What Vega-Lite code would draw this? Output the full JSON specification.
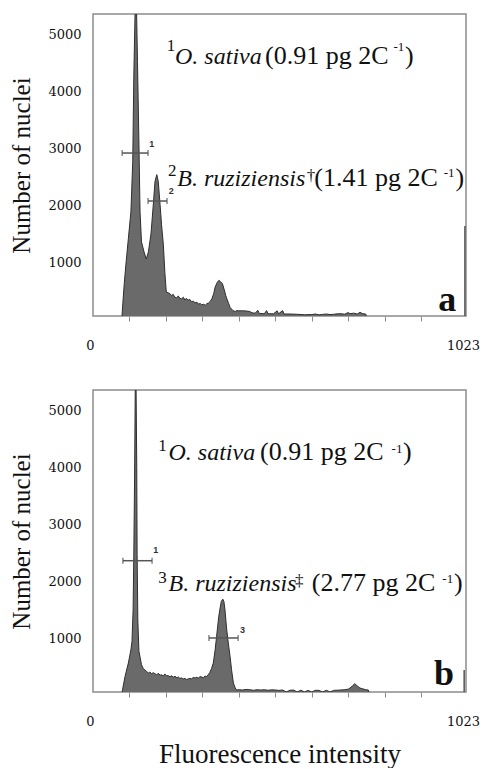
{
  "$schema": "https://vega.github.io/schema/vega-lite/v6.json",
  "padding": {"left": 9, "top": 13, "right": 0, "bottom": 0},
  "spacing": 36,
  "config": {
    "view": {"stroke": "#8c8c8c", "strokeWidth": 1.5},
    "axis": {"labelFont": "DejaVu Serif, serif", "labelFontSize": 13, "labelColor": "#111", "titleFont": "Liberation Serif, Times New Roman, serif", "titleFontWeight": "normal", "titleColor": "#111", "grid": false, "domain": false},
    "text": {"font": "Liberation Serif, Times New Roman, serif", "color": "#111"}
  },
  "datasets": {
    "histA": [
      {"x":0,"y":0},{"x":79,"y":0},{"x":82,"y":300},{"x":86,"y":650},{"x":90,"y":950},{"x":97,"y":1420},{"x":104,"y":1890},{"x":109,"y":2770},{"x":112,"y":4290},{"x":116,"y":5600},{"x":119,"y":5600},{"x":122,"y":4530},{"x":126,"y":3070},{"x":129,"y":1890},{"x":133,"y":1360},{"x":140,"y":1185},{"x":146,"y":1060},{"x":152,"y":1185},{"x":159,"y":1500},{"x":166,"y":2065},{"x":170,"y":2420},{"x":175,"y":2540},{"x":179,"y":2420},{"x":184,"y":2010},{"x":188,"y":1660},{"x":193,"y":1310},{"x":197,"y":830},{"x":201,"y":480},{"x":206,"y":470},{"x":211,"y":450},{"x":216,"y":420},{"x":220,"y":440},{"x":224,"y":392},{"x":229,"y":380},{"x":234,"y":410},{"x":238,"y":370},{"x":243,"y":362},{"x":248,"y":390},{"x":252,"y":340},{"x":256,"y":370},{"x":261,"y":339},{"x":266,"y":350},{"x":270,"y":310},{"x":275,"y":320},{"x":280,"y":292},{"x":285,"y":300},{"x":290,"y":270},{"x":294,"y":280},{"x":298,"y":257},{"x":303,"y":265},{"x":308,"y":250},{"x":312,"y":274},{"x":317,"y":290},{"x":322,"y":320},{"x":326,"y":362},{"x":331,"y":450},{"x":335,"y":568},{"x":340,"y":640},{"x":345,"y":686},{"x":350,"y":660},{"x":355,"y":627},{"x":360,"y":520},{"x":364,"y":420},{"x":367,"y":362},{"x":372,"y":280},{"x":376,"y":210},{"x":381,"y":176},{"x":385,"y":150},{"x":390,"y":140},{"x":395,"y":155},{"x":400,"y":150},{"x":410,"y":152},{"x":420,"y":148},{"x":430,"y":140},{"x":436,"y":115},{"x":445,"y":110},{"x":452,"y":160},{"x":456,"y":105},{"x":470,"y":100},{"x":476,"y":155},{"x":480,"y":100},{"x":495,"y":98},{"x":505,"y":150},{"x":509,"y":98},{"x":520,"y":155},{"x":524,"y":95},{"x":540,"y":95},{"x":560,"y":90},{"x":580,"y":82},{"x":600,"y":85},{"x":610,"y":95},{"x":620,"y":80},{"x":630,"y":88},{"x":640,"y":95},{"x":650,"y":85},{"x":660,"y":90},{"x":670,"y":98},{"x":680,"y":100},{"x":690,"y":92},{"x":700,"y":120},{"x":705,"y":100},{"x":715,"y":110},{"x":725,"y":95},{"x":732,"y":125},{"x":740,"y":100},{"x":748,"y":95},{"x":752,"y":0},{"x":1023,"y":0}
    ],
    "histB": [
      {"x":0,"y":0},{"x":78,"y":0},{"x":81,"y":100},{"x":88,"y":336},{"x":97,"y":569},{"x":104,"y":800},{"x":107,"y":950},{"x":110,"y":1500},{"x":112,"y":2500},{"x":114,"y":3800},{"x":116,"y":5500},{"x":118,"y":5500},{"x":120,"y":4000},{"x":121,"y":2470},{"x":123,"y":1306},{"x":126,"y":774},{"x":133,"y":539},{"x":138,"y":470},{"x":142,"y":451},{"x":147,"y":420},{"x":152,"y":393},{"x":156,"y":410},{"x":161,"y":380},{"x":165,"y":400},{"x":170,"y":381},{"x":175,"y":360},{"x":179,"y":390},{"x":184,"y":355},{"x":188,"y":364},{"x":193,"y":340},{"x":197,"y":375},{"x":202,"y":346},{"x":206,"y":346},{"x":211,"y":330},{"x":216,"y":345},{"x":220,"y":320},{"x":225,"y":336},{"x":230,"y":310},{"x":234,"y":325},{"x":238,"y":300},{"x":243,"y":306},{"x":248,"y":290},{"x":252,"y":300},{"x":256,"y":280},{"x":261,"y":288},{"x":266,"y":300},{"x":270,"y":290},{"x":275,"y":315},{"x":280,"y":306},{"x":285,"y":320},{"x":289,"y":300},{"x":293,"y":330},{"x":298,"y":323},{"x":303,"y":310},{"x":307,"y":340},{"x":311,"y":330},{"x":316,"y":364},{"x":320,"y":400},{"x":325,"y":470},{"x":330,"y":569},{"x":335,"y":800},{"x":339,"y":1037},{"x":345,"y":1389},{"x":349,"y":1550},{"x":352,"y":1652},{"x":356,"y":1690},{"x":359,"y":1650},{"x":362,"y":1500},{"x":366,"y":1200},{"x":371,"y":920},{"x":376,"y":680},{"x":380,"y":451},{"x":385,"y":218},{"x":390,"y":130},{"x":394,"y":95},{"x":400,"y":100},{"x":410,"y":95},{"x":420,"y":105},{"x":430,"y":100},{"x":440,"y":90},{"x":450,"y":100},{"x":460,"y":95},{"x":470,"y":100},{"x":480,"y":90},{"x":490,"y":98},{"x":500,"y":95},{"x":510,"y":88},{"x":520,"y":95},{"x":530,"y":60},{"x":540,"y":90},{"x":550,"y":95},{"x":560,"y":60},{"x":570,"y":92},{"x":580,"y":60},{"x":590,"y":88},{"x":600,"y":60},{"x":610,"y":90},{"x":620,"y":88},{"x":630,"y":60},{"x":640,"y":90},{"x":650,"y":60},{"x":660,"y":88},{"x":670,"y":92},{"x":680,"y":95},{"x":690,"y":100},{"x":700,"y":110},{"x":705,"y":130},{"x":712,"y":170},{"x":718,"y":205},{"x":724,"y":170},{"x":732,"y":130},{"x":740,"y":115},{"x":748,"y":100},{"x":755,"y":95},{"x":760,"y":0},{"x":1023,"y":0}
    ],
    "gatesA": [
      {"x":80,"x2":151,"y":2920,"lx":154,"ly":3080,"t":"1"},
      {"x":151,"x2":203,"y":2078,"lx":208,"ly":2250,"t":"2"}
    ],
    "gatesB": [
      {"x":82,"x2":162,"y":2364,"lx":165,"ly":2557,"t":"1"},
      {"x":318,"x2":398,"y":1008,"lx":403,"ly":1153,"t":"3"}
    ],
    "txtA": [
      {"x":202,"y":4711,"t":"1","kind":"sup"},
      {"x":225,"y":4483,"t":"O. sativa","kind":"it"},
      {"x":472,"y":4483,"t":"(0.91 pg 2C","kind":"rm"},
      {"x":824,"y":4711,"t":"-1","kind":"exp"},
      {"x":856,"y":4483,"t":")","kind":"rm"},
      {"x":206,"y":2517,"t":"2","kind":"sup"},
      {"x":231,"y":2342,"t":"B. ruziziensis","kind":"it"},
      {"x":586,"y":2429,"t":"†","kind":"sup"},
      {"x":607,"y":2342,"t":"(1.41 pg 2C","kind":"rm"},
      {"x":962,"y":2500,"t":"-1","kind":"exp"},
      {"x":994,"y":2342,"t":")","kind":"rm"}
    ],
    "txtB": [
      {"x":179,"y":4290,"t":"1","kind":"sup"},
      {"x":207,"y":4126,"t":"O. sativa","kind":"it"},
      {"x":458,"y":4126,"t":"(0.91 pg 2C","kind":"rm"},
      {"x":819,"y":4254,"t":"-1","kind":"exp"},
      {"x":850,"y":4126,"t":")","kind":"rm"},
      {"x":179,"y":1973,"t":"3","kind":"sup"},
      {"x":207,"y":1827,"t":"B. ruziziensis","kind":"it"},
      {"x":554,"y":1920,"t":"‡","kind":"sup"},
      {"x":600,"y":1827,"t":"(2.77 pg 2C","kind":"rm"},
      {"x":958,"y":1973,"t":"-1","kind":"exp"},
      {"x":990,"y":1827,"t":")","kind":"rm"}
    ],
    "letterA": [{"x":996,"y":148,"t":"a"}],
    "letterB": [{"x":990,"y":183,"t":"b"}],
    "edgeA": [{"x":1020,"y":60,"y2":1640}],
    "edgeB": [{"x":1018,"y":60,"y2":446}]
  },
  "vconcat": [
    {
      "width": 373,
      "height": 302,
      "encoding": {
        "x": {"field": "x", "type": "quantitative", "scale": {"domain": [0, 1023], "nice": false, "zero": false},
          "axis": {"values": [0,100,200,300,400,500,600,700,800,900,1023], "format": "d", "labelExpr": "datum.value == 0 || datum.value == 1023 ? datum.label : ''", "labelFlush": false, "labelOffset": -3, "tickSize": 5, "tickColor": "#8c8c8c", "tickOpacity": {"condition": {"test": "datum.value == 0 || datum.value == 1023", "value": 0}, "value": 1}, "labelPadding": 18, "title": null}},
        "y": {"field": "y", "type": "quantitative", "scale": {"domain": [60, 5360], "nice": false, "zero": false},
          "axis": {"values": [1000,2000,3000,4000,5000], "format": "d", "ticks": false, "labelPadding": 12, "title": "Number of nuclei", "titleFontSize": 25, "titlePadding": 13}}
      },
      "layer": [
        {"data": {"name": "histA"}, "mark": {"type": "area", "color": "#6a6a6a", "opacity": 1, "clip": true, "line": {"color": "#2e2e2e", "strokeWidth": 1}}},
        {"data": {"name": "edgeA"}, "mark": {"type": "rule", "color": "#555", "strokeWidth": 1.5}, "encoding": {"y2": {"field": "y2"}}},
        {"data": {"name": "gatesA"}, "mark": {"type": "errorbar", "ticks": true, "size": 6, "thickness": 1.5, "color": "#555"}, "encoding": {"x2": {"field": "x2"}}},
        {"data": {"name": "gatesA"}, "mark": {"type": "text", "align": "left", "baseline": "middle", "font": "Liberation Sans, Arial, sans-serif", "fontWeight": "bold", "fontSize": 9, "color": "#333"}, "encoding": {"x": {"field": "lx", "type": "quantitative"}, "y": {"field": "ly", "type": "quantitative"}, "text": {"field": "t"}}},
        {"data": {"name": "txtA"}, "transform": [{"filter": "datum.kind == 'sup'"}], "mark": {"type": "text", "align": "left", "baseline": "alphabetic", "fontSize": 17}, "encoding": {"text": {"field": "t"}}},
        {"data": {"name": "txtA"}, "transform": [{"filter": "datum.kind == 'exp'"}], "mark": {"type": "text", "align": "left", "baseline": "alphabetic", "fontSize": 13}, "encoding": {"text": {"field": "t"}}},
        {"data": {"name": "txtA"}, "transform": [{"filter": "datum.kind == 'it'"}], "mark": {"type": "text", "align": "left", "baseline": "alphabetic", "fontSize": 24, "fontStyle": "italic"}, "encoding": {"text": {"field": "t"}}},
        {"data": {"name": "txtA"}, "transform": [{"filter": "datum.kind == 'rm'"}], "mark": {"type": "text", "align": "left", "baseline": "alphabetic", "fontSize": 26}, "encoding": {"text": {"field": "t"}}},
        {"data": {"name": "letterA"}, "mark": {"type": "text", "align": "right", "baseline": "alphabetic", "fontSize": 36, "fontWeight": "bold"}, "encoding": {"text": {"field": "t"}}}
      ]
    },
    {
      "width": 373,
      "height": 302,
      "encoding": {
        "x": {"field": "x", "type": "quantitative", "scale": {"domain": [0, 1023], "nice": false, "zero": false},
          "axis": {"values": [0,100,200,300,400,500,600,700,800,900,1023], "format": "d", "labelExpr": "datum.value == 0 || datum.value == 1023 ? datum.label : ''", "labelFlush": false, "labelOffset": -3, "tickSize": 5, "tickColor": "#8c8c8c", "tickOpacity": {"condition": {"test": "datum.value == 0 || datum.value == 1023", "value": 0}, "value": 1}, "labelPadding": 18, "title": "Fluorescence intensity", "titleFontSize": 27, "titlePadding": 13}},
        "y": {"field": "y", "type": "quantitative", "scale": {"domain": [60, 5360], "nice": false, "zero": false},
          "axis": {"values": [1000,2000,3000,4000,5000], "format": "d", "ticks": false, "labelPadding": 12, "title": "Number of nuclei", "titleFontSize": 25, "titlePadding": 13}}
      },
      "layer": [
        {"data": {"name": "histB"}, "mark": {"type": "area", "color": "#6a6a6a", "opacity": 1, "clip": true, "line": {"color": "#2e2e2e", "strokeWidth": 1}}},
        {"data": {"name": "edgeB"}, "mark": {"type": "rule", "color": "#555", "strokeWidth": 1.5}, "encoding": {"y2": {"field": "y2"}}},
        {"data": {"name": "gatesB"}, "mark": {"type": "errorbar", "ticks": true, "size": 6, "thickness": 1.5, "color": "#555"}, "encoding": {"x2": {"field": "x2"}}},
        {"data": {"name": "gatesB"}, "mark": {"type": "text", "align": "left", "baseline": "middle", "font": "Liberation Sans, Arial, sans-serif", "fontWeight": "bold", "fontSize": 9, "color": "#333"}, "encoding": {"x": {"field": "lx", "type": "quantitative"}, "y": {"field": "ly", "type": "quantitative"}, "text": {"field": "t"}}},
        {"data": {"name": "txtB"}, "transform": [{"filter": "datum.kind == 'sup'"}], "mark": {"type": "text", "align": "left", "baseline": "alphabetic", "fontSize": 17}, "encoding": {"text": {"field": "t"}}},
        {"data": {"name": "txtB"}, "transform": [{"filter": "datum.kind == 'exp'"}], "mark": {"type": "text", "align": "left", "baseline": "alphabetic", "fontSize": 13}, "encoding": {"text": {"field": "t"}}},
        {"data": {"name": "txtB"}, "transform": [{"filter": "datum.kind == 'it'"}], "mark": {"type": "text", "align": "left", "baseline": "alphabetic", "fontSize": 24, "fontStyle": "italic"}, "encoding": {"text": {"field": "t"}}},
        {"data": {"name": "txtB"}, "transform": [{"filter": "datum.kind == 'rm'"}], "mark": {"type": "text", "align": "left", "baseline": "alphabetic", "fontSize": 26}, "encoding": {"text": {"field": "t"}}},
        {"data": {"name": "letterB"}, "mark": {"type": "text", "align": "right", "baseline": "alphabetic", "fontSize": 36, "fontWeight": "bold"}, "encoding": {"text": {"field": "t"}}}
      ]
    }
  ]
}
